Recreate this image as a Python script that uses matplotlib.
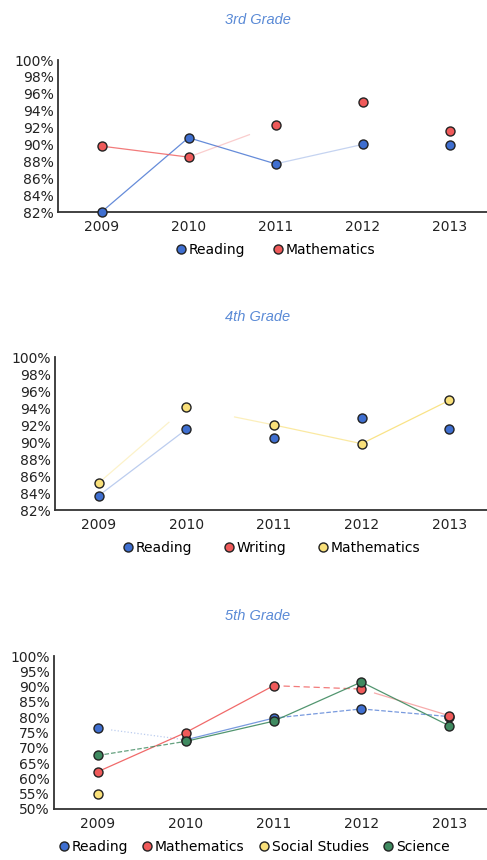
import numpy as np
import matplotlib
matplotlib.use('Agg')
import matplotlib.pyplot as plt
from matplotlib.lines import Line2D

plt.rcParams['font.family'] = ['DejaVu Sans']
plt.rcParams['font.size'] = 10

years = [2009, 2010, 2011, 2012, 2013]

# 3rd grade
g3_reading = [82.0, 90.8, 87.7, 90.0, 89.9]
g3_math = [89.8, 88.5, 92.3, 95.0, 91.6]

# 4th grade
g4_reading = [83.7, 91.5, 90.5, 92.8, 91.5]
g4_writing = [np.nan] * 5
g4_math = [85.2, 94.1, 92.0, 89.8, 94.9]

# 5th grade
g5_reading = [76.4, 72.6, 79.7, 82.7, 80.2]
g5_math = [62.2, 75.0, 90.3, 89.2, 80.5]
g5_social = [54.9, np.nan, np.nan, np.nan, np.nan]
g5_science = [67.5, 72.1, 78.7, 91.5, 77.2]

blue = '#3f6fd0'
red = '#ef5a5a'
yellow = '#f9e07a'
green = '#3f8a60'
title_color = '#5a8ad6'

# visible pieces of the (faded, scanned) connecting lines:
# (from index, to index, start fraction, end fraction, alpha, linestyle)
panels = [
    dict(title='3rd Grade', box=[58, 60, 487, 212], ylim=(82, 100), step=2,
         series=[('Reading', g3_reading, blue,
                  [(0, 1, 0, 1, 0.8, '-'), (1, 2, 0, 1, 0.8, '-'), (2, 3, 0, 1, 0.3, '-')]),
                 ('Mathematics', g3_math, red,
                  [(0, 1, 0, 1, 0.8, '-'), (1, 2, 0, 0.7, 0.3, '-')])],
         legx=0.505, colsp=1.9),
    dict(title='4th Grade', box=[55, 357, 487, 510], ylim=(82, 100), step=2,
         series=[('Reading', g4_reading, blue, [(0, 1, 0, 1, 0.35, '-')]),
                 ('Writing', g4_writing, red, []),
                 ('Mathematics', g4_math, yellow,
                  [(0, 1, 0, 0.8, 0.4, '-'), (1, 2, 0.55, 1, 0.5, '-'),
                   (2, 3, 0, 1, 0.7, '-'), (3, 4, 0, 1, 0.9, '-')])],
         legx=0.5, colsp=2.15),
    dict(title='5th Grade', box=[54, 656, 487, 809], ylim=(50, 100), step=5,
         series=[('Reading', g5_reading, blue,
                  [(0, 1, 0.15, 1, 0.35, ':'), (1, 2, 0, 1, 0.7, '-'),
                   (2, 3, 0, 1, 0.7, '--'), (3, 4, 0, 1, 0.7, '--')]),
                 ('Mathematics', g5_math, red,
                  [(0, 1, 0, 1, 0.9, '-'), (1, 2, 0, 1, 0.9, '-'),
                   (2, 3, 0, 1, 0.8, (0, (5, 3))), (3, 4, 0.15, 1, 0.5, '-')]),
                 ('Social Studies', g5_social, yellow, []),
                 ('Science', g5_science, green,
                  [(0, 1, 0, 1, 0.8, '--'), (1, 2, 0, 1, 0.9, '-'),
                   (2, 3, 0, 1, 0.9, '-'), (3, 4, 0, 1, 0.9, '-')])],
         legx=0.46, colsp=0.9),
]

W, H = 487, 860
fig = plt.figure(figsize=(W / 100, H / 100), dpi=100)

for p in panels:
    x0, y0, x1, y1 = p['box']
    ax = fig.add_axes([x0 / W, 1 - y1 / H, (x1 - x0) / W, (y1 - y0) / H])
    handles = []
    for name, vals, col, segs in p['series']:
        v = np.array(vals, dtype=float)
        for i, j, t0, t1, a, ls in segs:
            xa = years[i] + (years[j] - years[i]) * np.array([t0, t1])
            ya = v[i] + (v[j] - v[i]) * np.array([t0, t1])
            ax.plot(xa, ya, color=col, lw=0.9, alpha=a, ls=ls, zorder=2)
        ax.plot(years, v, ls='none', marker='o', ms=6.5, mfc=col, mec='#222222',
                mew=1.0, zorder=3, clip_on=False)
        handles.append(Line2D([], [], ls='none', marker='o', ms=6.5, mfc=col,
                              mec='#222222', mew=1.0, label=name))
    ax.set_xlim(2008.5, 2013.43)
    ax.set_ylim(*p['ylim'])
    ax.set_xticks(years)
    ax.set_xticklabels([str(y) for y in years])
    yt = np.arange(p['ylim'][0], p['ylim'][1] + 1, p['step'])
    ax.set_yticks(yt)
    ax.set_yticklabels(['%d%%' % t for t in yt])
    ax.tick_params(length=0, pad=3, labelcolor='#222222', labelsize=10)
    ax.tick_params(axis='x', pad=6)
    for s in ['top', 'right']:
        ax.spines[s].set_visible(False)
    for s in ['left', 'bottom']:
        ax.spines[s].set_color('#333333')
        ax.spines[s].set_linewidth(1.3)
    ax.set_title(p['title'], color=title_color, style='italic', fontsize=10.5,
                 family=['Liberation Sans', 'DejaVu Sans'],
                 x=(258 - x0) / (x1 - x0), pad=26)
    ax.legend(handles=handles, loc='center', bbox_to_anchor=(p['legx'], -0.25),
              ncol=len(handles), frameon=False, handletextpad=0.05,
              columnspacing=p['colsp'], handlelength=1.0, fontsize=10)

fig.savefig('out.png', dpi=100)
